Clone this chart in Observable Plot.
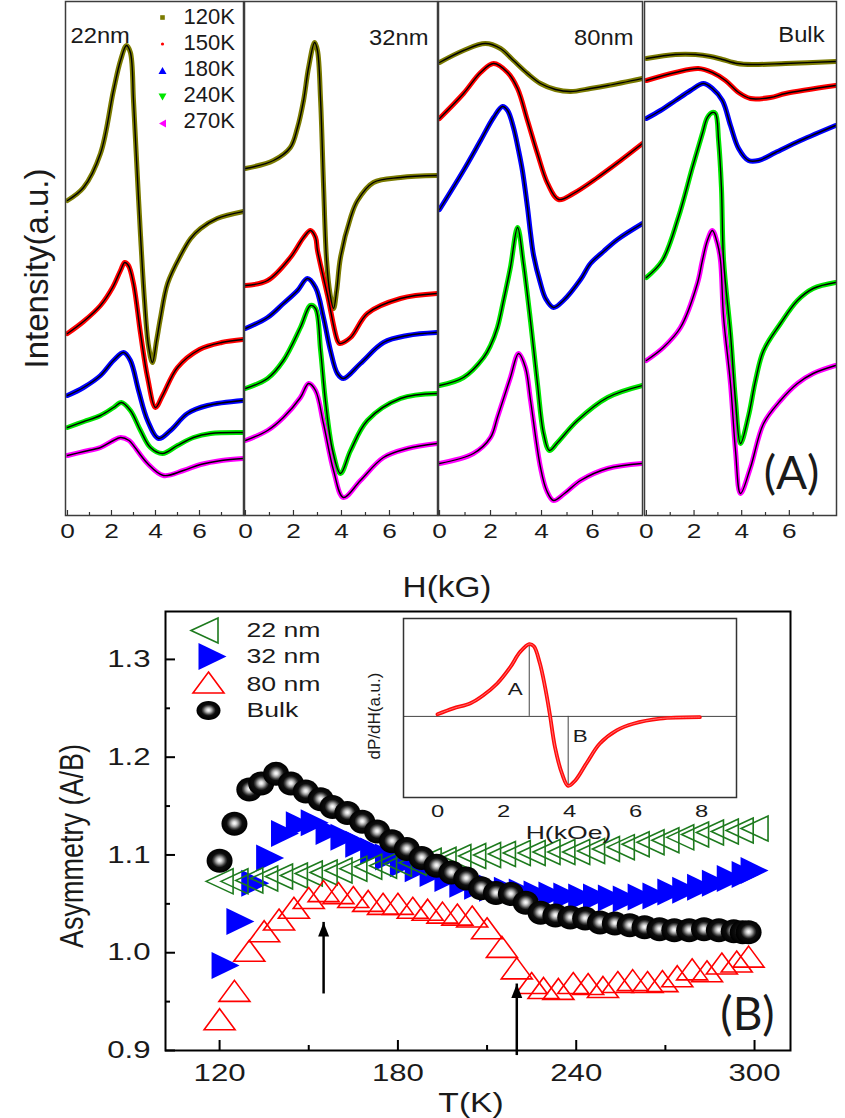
<!DOCTYPE html>
<html>
<head>
<meta charset="utf-8">
<script src="https://cdn.jsdelivr.net/npm/d3@7"></script>
<script src="https://cdn.jsdelivr.net/npm/@observablehq/plot@0.6"></script>
<style>
  html, body { margin: 0; padding: 0; background: #fff; }
  #fig { position: relative; width: 845px; height: 1118px; overflow: hidden; }
  #fig svg { position: absolute; }
</style>
</head>
<body>
<div id="fig"></div>
<script>
// ---------- (A) ESR spectra, intensity (a.u.) vs field H (kG), offset per temperature ----------
const temperatures = ["120K", "150K", "180K", "240K", "270K"];
const fieldTicks = [0, 2, 4, 6];
const fieldMinor = [1, 3, 5, 7];

const s22_120 = [[0,315],[0.73,328],[1.5,362],[2.09,425],[2.41,455],[2.68,470],[2.86,463],[3.0,415],[3.14,355],[3.32,280],[3.5,215],[3.68,170],[3.86,153],[4.05,175],[4.23,198],[4.55,232],[5.14,260],[5.6,277],[6.05,287],[6.8,297],[8.0,304]];
const s22_150 = [[0,182],[0.73,194],[1.5,210],[2.05,228],[2.41,245],[2.6,253],[2.77,250],[3.0,232],[3.32,182],[3.64,138],[4.0,108],[4.32,120],[5.0,148],[6.0,166],[7.0,173],[8.0,176]];
const s22_180 = [[0,120],[0.73,128],[1.5,140],[2.09,155],[2.55,163],[2.86,155],[3.23,125],[3.64,95],[4.14,77],[4.68,85],[5.45,102],[6.36,110],[8.0,115]];
const s22_240 = [[0,88],[0.75,94],[1.5,100],[2.1,108],[2.45,113],[2.86,105],[3.32,85],[3.77,68],[4.32,62],[5.0,70],[5.73,78],[6.5,82],[8.0,83]];
const s22_270 = [[0,60],[0.75,64],[1.5,68],[2.0,74],[2.41,78],[2.8,75],[3.0,70],[3.64,52],[4.36,40],[5.27,45],[6.05,51],[7.0,55],[8.0,57]];

const s32_120 = [[0,347],[1.17,355],[1.87,368],[2.17,388],[2.42,415],[2.63,448],[2.88,473],[3.0,465],[3.13,415],[3.25,332],[3.38,255],[3.52,222],[3.67,207],[3.8,225],[3.96,258],[4.38,298],[4.67,315],[5.33,333],[6.46,338],[8.0,340]];
const s32_150 = [[0,230],[0.92,235],[1.87,258],[2.42,278],[2.71,285],[2.92,278],[3.0,265],[3.42,220],[3.83,175],[3.92,172],[4.38,178],[5.08,202],[6.46,217],[8.0,222]];
const s32_180 = [[0,187],[0.92,198],[1.58,212],[2.17,225],[2.58,237],[2.92,228],[3.25,198],[3.54,165],[3.83,142],[4.08,137],[4.79,152],[5.75,173],[6.75,180],[8.0,183]];
const s32_240 = [[0,127],[0.92,137],[1.58,155],[2.29,188],[2.71,210],[2.92,207],[3.13,165],[3.33,115],[3.63,65],[3.96,42],[4.38,65],[5.08,95],[6.46,117],[8.0,122]];
const s32_270 = [[0,75],[0.92,85],[1.58,98],[2.29,118],[2.63,132],[2.92,125],[3.25,92],[3.67,45],[4.08,18],[4.79,35],[5.75,58],[6.75,67],[8.0,72]];

const s80_120 = [[0,453],[0.94,465],[1.8,472],[2.39,467],[2.9,455],[3.45,442],[3.96,432],[4.55,426],[5.14,424],[5.92,427],[6.6,430],[7.96,437]];
const s80_150 = [[0,397],[0.94,422],[1.61,443],[2.12,452],[2.67,443],[3.06,427],[3.45,395],[3.84,362],[4.24,332],[4.67,316],[5.25,322],[6.2,338],[7.1,355],[7.96,372]];
const s80_180 = [[0,306],[0.94,345],[1.61,375],[2.12,398],[2.47,409],[2.67,405],[2.9,388],[3.1,365],[3.25,345],[3.45,308],[3.57,282],[3.69,260],[3.96,232],[4.16,217],[4.47,208],[4.86,215],[5.53,236],[5.92,252],[6.43,264],[6.98,276],[7.96,292]];
const s80_240 = [[0,130],[0.94,138],[1.73,158],[2.0,170],[2.27,188],[2.51,215],[2.78,248],[3.06,288],[3.29,252],[3.57,194],[3.84,132],[4.08,82],[4.31,65],[4.63,73],[5.41,95],[6.59,118],[7.96,130]];
const s80_270 = [[0,52],[1.33,62],[2.0,78],[2.27,98],[2.78,138],[3.1,162],[3.37,148],[3.57,115],[3.96,48],[4.2,25],[4.47,15],[4.9,22],[5.53,35],[6.59,47],[7.96,52]];

const sBk_120 = [[0,457],[1.22,461],[2.06,461],[2.69,459],[3.19,456],[3.82,452],[4.45,451],[5.84,452],[7.94,454]];
const sBk_150 = [[0,435],[1.22,443],[2.18,447],[2.77,443],[3.32,435],[3.87,423],[4.37,417],[5.21,418],[5.84,422],[7.94,430]];
const sBk_180 = [[0,397],[0.59,405],[1.22,415],[1.85,425],[2.39,432],[2.77,427],[3.19,415],[3.53,390],[3.87,367],[4.29,355],[4.71,355],[5.42,363],[6.47,375],[7.94,390]];
const sBk_240 = [[0,238],[0.67,255],[1.34,298],[1.93,348],[2.35,382],[2.56,398],[2.77,403],[2.9,402],[3.03,375],[3.15,328],[3.24,255],[3.53,182],[3.74,115],[3.95,72],[4.29,100],[4.58,135],[4.92,165],[5.63,192],[6.34,215],[7.0,227],[7.94,233]];
const sBk_270 = [[0,155],[0.71,168],[1.43,188],[2.14,232],[2.35,255],[2.56,275],[2.77,285],[2.98,272],[3.11,255],[3.24,198],[3.53,132],[3.74,65],[3.95,22],[4.37,48],[4.92,92],[5.63,115],[6.34,132],[7.0,142],[7.94,150]];

// ---------- (B) asymmetry A/B vs temperature T (K) ----------
const tempTicks = [120, 180, 240, 300];
const tempMinor = [150, 210, 270];
const asymTicks = [0.9, 1.0, 1.1, 1.2, 1.3];
const asymMinor = [0.95, 1.05, 1.15, 1.25];

const asym22T = [120,125,130,135,140,145,150,155,160,165,170,175,180,185,190,195,200,205,210,215,220,225,230,235,240,245,250,255,260,265,270,275,280,285,290,295,300];
const asym22  = [1.073,1.073,1.074,1.076,1.078,1.079,1.081,1.082,1.084,1.086,1.088,1.089,1.091,1.092,1.094,1.095,1.098,1.099,1.100,1.101,1.102,1.102,1.103,1.103,1.103,1.104,1.106,1.108,1.111,1.113,1.115,1.118,1.121,1.123,1.124,1.125,1.127];

const asym32T = [122,127,132,137,142,147,152,157,162,167,172,177,182,187,192,197,202,207,212,217,222,227,232,237,242,247,252,257,262,267,272,277,282,287,292,297,300];
const asym32  = [0.987,1.032,1.071,1.097,1.122,1.131,1.133,1.124,1.118,1.111,1.104,1.098,1.091,1.086,1.081,1.076,1.070,1.068,1.066,1.064,1.062,1.060,1.059,1.058,1.057,1.057,1.056,1.055,1.057,1.058,1.062,1.064,1.067,1.071,1.076,1.080,1.084];

const asym80T = [120,125,130,135,140,145,150,155,160,165,170,175,180,185,190,195,200,205,210,215,220,225,229,234,239,244,249,254,259,264,269,274,279,284,289,294,298];
const asym80  = [0.932,0.961,1.002,1.022,1.034,1.046,1.056,1.063,1.061,1.057,1.053,1.050,1.050,1.046,1.044,1.041,1.039,1.037,1.025,1.006,0.984,0.969,0.964,0.963,0.969,0.968,0.965,0.970,0.972,0.970,0.971,0.976,0.983,0.981,0.989,0.991,0.996];

const asymBulkT = [120,125,130,134,139,144,149,154,158,163,168,173,178,183,188,193,198,203,208,213,218,223,228,233,238,243,248,253,258,263,268,273,278,283,288,293,296,298];
const asymBulk  = [1.094,1.132,1.167,1.173,1.183,1.173,1.165,1.157,1.149,1.143,1.134,1.124,1.114,1.106,1.097,1.089,1.082,1.076,1.066,1.061,1.060,1.051,1.041,1.038,1.036,1.035,1.031,1.030,1.028,1.026,1.024,1.023,1.023,1.024,1.023,1.022,1.021,1.021];

const seriesNames = ["22 nm", "32 nm", "80 nm", "Bulk"];
const arrowT    = [155, 220];
const arrowFrom = [0.966, 0.903];
const arrowTo   = [1.031, 0.968];

// ---------- inset: derivative line shape dP/dH vs H (kOe) ----------
const insetTicks = [0, 2, 4, 6, 8];
const insetH = [0,0.48,1.0,1.39,1.81,2.2,2.5,2.78,2.92,3.1,3.26,3.4,3.56,3.77,3.96,4.17,4.53,4.92,5.43,5.93,6.74,7.95];
const insetD = [0.03,0.11,0.18,0.29,0.45,0.67,0.88,0.99,0.96,0.73,0.40,0.04,-0.42,-0.78,-0.95,-0.88,-0.63,-0.37,-0.19,-0.10,-0.03,-0.01];

// ---------- drawing ----------
const FONT = "'Liberation Sans', Arial, Helvetica, sans-serif";
const tempColors = ["#7b7b00", "#ff0000", "#0000ff", "#00e600", "#ff00ff"];
const fig = document.getElementById("fig");

function place(svg, left, top) {
  svg.style.left = left + "px";
  svg.style.top = top + "px";
  fig.appendChild(svg);
  return svg;
}
// horizontally widen glyphs around their anchors
function widenEl(t, k) {
  const tr = t.getAttribute("transform") || "";
  t.setAttribute("transform", tr + (tr.includes("rotate(") ? ` scale(1,${k})` : ` scale(${k},1)`));
}
function widen(svg, selector, k) {
  svg.querySelectorAll(selector).forEach(t => widenEl(t, k));
}
function widenText(svg, strings, k) {
  svg.querySelectorAll("text").forEach(t => { if (strings.includes(t.textContent)) widenEl(t, k); });
}
function style(fontSize) {
  return {fontFamily: FONT, fontSize: fontSize + "px", background: "transparent", overflow: "visible", color: "#1a1a1a"};
}
// marker shapes
function triangle(dir, w, h) {
  return {draw(ctx) {
    const a = w / 2, b = h / 2;
    if (dir === "up") { ctx.moveTo(0, -b); ctx.lineTo(a, b); ctx.lineTo(-a, b); }
    else if (dir === "down") { ctx.moveTo(0, b); ctx.lineTo(a, -b); ctx.lineTo(-a, -b); }
    else if (dir === "left") { ctx.moveTo(-a, 0); ctx.lineTo(a, -b); ctx.lineTo(a, b); }
    else { ctx.moveTo(a, 0); ctx.lineTo(-a, -b); ctx.lineTo(-a, b); }
    ctx.closePath();
  }};
}
function ellipse(rx, ry) {
  return {draw(ctx) {
    const k = 0.5523, ox = rx * k, oy = ry * k;
    ctx.moveTo(-rx, 0);
    ctx.bezierCurveTo(-rx, -oy, -ox, -ry, 0, -ry);
    ctx.bezierCurveTo(ox, -ry, rx, -oy, rx, 0);
    ctx.bezierCurveTo(rx, oy, ox, ry, 0, ry);
    ctx.bezierCurveTo(-ox, ry, -rx, oy, -rx, 0);
    ctx.closePath();
  }};
}
const arrowHead = {draw(ctx) { ctx.moveTo(0, 0); ctx.lineTo(5.5, 14); ctx.lineTo(-5.5, 14); ctx.closePath(); }};

// ----- panel (A): four sub-panels -----
const tempSymbols = [
  {symbol: "square", r: 2.6},
  {symbol: "circle", r: 1.6},
  {symbol: triangle("up", 8, 7)},
  {symbol: triangle("down", 8, 7)},
  {symbol: triangle("left", 7, 8)}
];
const panelA = [
  {name: "22nm", curves: [s22_120, s22_150, s22_180, s22_240, s22_270], left: 65,  width: 178, domain: [-0.09, 8.0],  anchor: "top-left",  ndx: 5,   ndy: 34},
  {name: "32nm", curves: [s32_120, s32_150, s32_180, s32_240, s32_270], left: 244, width: 193, domain: [-0.04, 8.0],  anchor: "top-right", ndx: -9,  ndy: 36},
  {name: "80nm", curves: [s80_120, s80_150, s80_180, s80_240, s80_270], left: 438, width: 204, domain: [-0.04, 7.96], anchor: "top-right", ndx: -9,  ndy: 36},
  {name: "Bulk", curves: [sBk_120, sBk_150, sBk_180, sBk_240, sBk_270], left: 644, width: 192, domain: [-0.08, 7.98], anchor: "top-right", ndx: -12, ndy: 33}
];
const innerA = 514;

panelA.forEach((p, pi) => {
  const extra = [];
  if (pi === 0) {
    temperatures.forEach((t, i) => {
      extra.push(Plot.dot([t], {frameAnchor: "top-left", dx: 97, dy: 16 + i * 26.5, ...tempSymbols[i], fill: tempColors[i], stroke: "none"}));
      extra.push(Plot.text([t], {text: d => d, frameAnchor: "top-left", dx: 118, dy: 15 + i * 26, textAnchor: "start", lineAnchor: "middle", fontSize: 22}));
    });
    extra.push(Plot.text(["Intensity(a.u.)"], {text: d => d, frameAnchor: "left", dx: -28, dy: 10, rotate: -90, textAnchor: "middle", lineAnchor: "middle", fontSize: 33}));
  }
  if (pi === 1) {
    extra.push(Plot.text(["H(kG)"], {text: d => d, frameAnchor: "bottom", dx: 106, dy: 72, textAnchor: "middle", lineAnchor: "middle", fontSize: 29}));
  }
  if (pi === 3) {
    extra.push(Plot.text(["(A)"], {text: d => d, frameAnchor: "bottom-right", dx: -45, dy: -41, textAnchor: "middle", lineAnchor: "middle", fontSize: 46, fontFamily: "Lato, 'Open Sans', sans-serif"}));
  }
  const svg = Plot.plot({
    width: p.width, height: 545,
    marginTop: 1, marginBottom: 30, marginLeft: 0, marginRight: 0,
    x: {domain: p.domain, ticks: fieldTicks, tickSize: 0, tickPadding: 8, label: null},
    y: {domain: [0, 514], axis: null},
    style: style(21),
    marks: [
      ...p.curves.map((c, i) => Plot.line(c, {x: d => d[0], y: d => d[1], curve: "catmull-rom", stroke: tempColors[i], strokeWidth: 5, clip: true})),
      ...p.curves.map(c => Plot.line(c, {x: d => d[0], y: d => d[1], curve: "catmull-rom", stroke: "#000", strokeWidth: 1.4, clip: true})),
      Plot.tickX(fieldTicks, {x: d => d, insetTop: innerA - 5, stroke: "#333", strokeWidth: 1.2}),
      Plot.tickX(fieldMinor, {x: d => d, insetTop: innerA - 3, stroke: "#333", strokeWidth: 1.2}),
      Plot.frame({stroke: "#3c3c3c", strokeWidth: 1.5}),
      Plot.text([p.name], {text: d => d, frameAnchor: p.anchor, dx: p.ndx, dy: p.ndy, textAnchor: p.anchor === "top-left" ? "start" : "end", lineAnchor: "middle", fontSize: 22}),
      ...extra
    ]
  });
  place(svg, p.left, 0);
  widen(svg, 'g[aria-label^="x-axis"] text', 1.25);
  widenText(svg, ["H(kG)"], 1.15);
  widenText(svg, [p.name], 1.08);
});

// ----- panel (B) -----
const rows22 = asym22T.map((T, i) => ({T, v: asym22[i]}));
const rows32 = asym32T.map((T, i) => ({T, v: asym32[i]}));
const rows80 = asym80T.map((T, i) => ({T, v: asym80[i]}));
const rowsBulk = asymBulkT.map((T, i) => ({T, v: asymBulk[i]}));
const arrows = arrowT.map((T, i) => ({T, from: arrowFrom[i], to: arrowTo[i]}));

const green22 = "#1d7a1d";
const sym22 = triangle("left", 27, 25);
const sym32 = triangle("right", 28, 27);
const sym80 = triangle("up", 31, 21);
const symBulk = ellipse(13, 12);
const innerBH = 558 - 51 - 68, innerBW = 845 - 165 - 55;

const legendB = [
  {dx: 39, dy: 19, symbol: sym22, fill: "none", stroke: green22, strokeWidth: 1.6},
  {dx: 47, dy: 45, symbol: sym32, fill: "#0000ff", stroke: "none"},
  {dx: 43, dy: 71, symbol: sym80, fill: "none", stroke: "#ff0000", strokeWidth: 1.6},
  {dx: 43, dy: 99, symbol: ellipse(12, 9.5), fill: "url(#sphere)", stroke: "none"}
];
const legendLabelDy = [19, 45, 73, 99];

const plotB = Plot.plot({
  width: 845, height: 558,
  marginLeft: 165, marginRight: 55, marginTop: 51, marginBottom: 68,
  x: {domain: [101.8, 312.1], ticks: tempTicks, tickSize: 0, tickPadding: 13, label: null},
  y: {domain: [0.9, 1.349], ticks: asymTicks, tickSize: 0, tickPadding: 15, tickFormat: ".1f", label: null},
  style: style(24),
  marks: [
    Plot.dot(rows32, {x: "T", y: "v", symbol: sym32, fill: "#0000ff", stroke: "none"}),
    Plot.dot(rows22, {x: "T", y: "v", symbol: sym22, fill: "none", stroke: green22, strokeWidth: 1.6}),
    Plot.dot(rows80, {x: "T", y: "v", symbol: sym80, fill: "none", stroke: "#ff0000", strokeWidth: 1.6}),
    Plot.dot(rowsBulk, {x: "T", y: "v", symbol: symBulk, fill: "url(#sphere)", stroke: "none"}),
    Plot.ruleX(arrows, {x: "T", y1: "from", y2: "to", stroke: "#000", strokeWidth: 2.5, insetTop: 8}),
    Plot.dot(arrows, {x: "T", y: "to", symbol: arrowHead, fill: "#000", stroke: "none"}),
    Plot.tickX(tempTicks, {x: d => d, insetTop: innerBH - 10, stroke: "#000", strokeWidth: 2}),
    Plot.tickX(tempMinor, {x: d => d, insetTop: innerBH - 5, stroke: "#000", strokeWidth: 2}),
    Plot.tickY(asymTicks, {y: d => d, insetRight: innerBW - 10, stroke: "#000", strokeWidth: 2}),
    Plot.tickY(asymMinor, {y: d => d, insetRight: innerBW - 5, stroke: "#000", strokeWidth: 2}),
    Plot.frame({stroke: "#000", strokeWidth: 2}),
    ...legendB.map((l, i) => Plot.dot([seriesNames[i]], {frameAnchor: "top-left", ...l})),
    ...seriesNames.map((s, i) => Plot.text([s], {text: d => d, frameAnchor: "top-left", dx: 81, dy: legendLabelDy[i], textAnchor: "start", lineAnchor: "middle", fontSize: 20.5})),
    Plot.text(["Asymmetry (A/B)"], {text: d => d, frameAnchor: "left", dx: -93, dy: 15, rotate: -90, textAnchor: "middle", lineAnchor: "middle", fontSize: 27}),
    Plot.text(["T(K)"], {text: d => d, frameAnchor: "bottom", dx: -7, dy: 53, textAnchor: "middle", lineAnchor: "middle", fontSize: 28}),
    Plot.text(["(B)"], {text: d => d, frameAnchor: "bottom-right", dx: -43, dy: -35, textAnchor: "middle", lineAnchor: "middle", fontSize: 46, fontFamily: "Lato, 'Open Sans', sans-serif"})
  ]
});
// shaded sphere fill for the bulk markers
{
  const grad = d3.select(plotB).insert("defs", ":first-child")
    .append("radialGradient").attr("id", "sphere").attr("cx", "50%").attr("cy", "48%").attr("r", "50%");
  [[0, "#ffffff"], [0.14, "#e0e0e0"], [0.3, "#9a9a9a"], [0.46, "#444"], [0.6, "#0d0d0d"], [1, "#000"]]
    .forEach(([o, c]) => grad.append("stop").attr("offset", o).attr("stop-color", c));
}
place(plotB, 0, 560);
widen(plotB, 'g[aria-label^="x-axis"] text', 1.3);
widen(plotB, 'g[aria-label^="y-axis"] text', 1.3);
widenText(plotB, seriesNames, 1.3);
widenText(plotB, ["T(K)"], 1.2);
widenText(plotB, ["Asymmetry (A/B)"], 1.2);

// ----- inset -----
const insetRows = insetH.map((H, i) => ({H, v: insetD[i]}));
const peak = insetRows.reduce((a, b) => (b.v > a.v ? b : a));
const trough = insetRows.reduce((a, b) => (b.v < a.v ? b : a));

const inset = Plot.plot({
  width: 400, height: 250,
  marginLeft: 53, marginRight: 14, marginTop: 18, marginBottom: 53,
  x: {domain: [-1.03, 9.06], ticks: insetTicks, tickSize: 0, tickPadding: 7, label: null},
  y: {domain: [-1.11, 1.34], axis: null},
  style: style(17),
  marks: [
    Plot.ruleY([0], {stroke: "#444", strokeWidth: 1}),
    Plot.ruleX([peak], {x: "H", y1: 0, y2: "v", stroke: "#444", strokeWidth: 1}),
    Plot.ruleX([trough], {x: "H", y1: 0, y2: "v", stroke: "#444", strokeWidth: 1}),
    Plot.line(insetRows, {x: "H", y: "v", curve: "catmull-rom", stroke: "#ff0a0a", strokeWidth: 3.8}),
    Plot.line(insetRows, {x: "H", y: "v", curve: "catmull-rom", stroke: "#ff8a8a", strokeWidth: 0.8}),
    Plot.frame({stroke: "#333", strokeWidth: 1.5}),
    Plot.text([peak], {x: "H", y: d => d.v * 0.37, text: () => "A", dx: -14, textAnchor: "middle", lineAnchor: "middle", fontSize: 16}),
    Plot.text([trough], {x: "H", y: d => d.v * 0.3, text: () => "B", dx: 12, textAnchor: "middle", lineAnchor: "middle", fontSize: 16}),
    Plot.text(["H(kOe)"], {text: d => d, frameAnchor: "bottom", dx: -1.5, dy: 35, textAnchor: "middle", lineAnchor: "middle", fontSize: 19}),
    Plot.text(["dP/dH(a.u.)"], {text: d => d, frameAnchor: "left", dx: -29, dy: 8, rotate: -90, textAnchor: "middle", lineAnchor: "middle", fontSize: 17})
  ]
});
place(inset, 350, 600);
widen(inset, 'g[aria-label^="x-axis"] text', 1.4);
widenText(inset, ["A", "B", "H(kOe)"], 1.4);
</script>
</body>
</html>
